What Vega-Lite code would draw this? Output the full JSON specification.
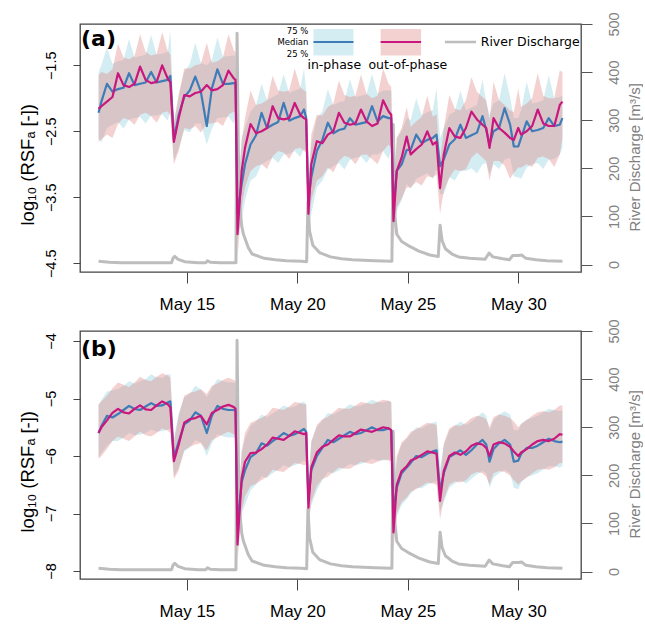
{
 "$schema": "https://vega.github.io/schema/vega-lite/v6.json",
 "padding": {"left": 17, "top": 11, "right": 0, "bottom": 0},
 "background": "white",
 "config": {
  "view": {"stroke": "#444", "strokeWidth": 1.3},
  "font": "Liberation Sans",
  "axis": {"grid": false, "labelFont": "Liberation Sans", "titleFont": "Liberation Sans", "labelColor": "#000", "titleColor": "#000", "titleFontWeight": "normal", "tickColor": "#444", "domainColor": "#444", "labelFontSize": 14.5, "titleFontSize": 16.5, "labelFlush": false, "labelOverlap": false}
 },
 "datasets": {
  "a": [
   {"d":11,"il":-2.6,"im":-2.22,"ih":-1.6,"ol":-2.66,"om":-2.16,"oh":-1.65},
   {"d":11.13,"il":-2.67,"im":-2.05,"ih":-1.5,"ol":-2.62,"om":-2.12,"oh":-1.6},
   {"d":11.38,"il":-2.45,"im":-1.78,"ih":-1.23,"ol":-2.55,"om":-2.05,"oh":-1.63},
   {"d":11.63,"il":-2.4,"im":-1.9,"ih":-1.48,"ol":-2.6,"om":-1.98,"oh":-1.56},
   {"d":11.88,"il":-2.36,"im":-1.86,"ih":-1.44,"ol":-2.39,"om":-1.62,"oh":-1.17},
   {"d":12.13,"il":-2.46,"im":-1.84,"ih":-1.42,"ol":-2.3,"om":-1.8,"oh":-1.38},
   {"d":12.38,"il":-2.32,"im":-1.62,"ih":-1.1,"ol":-2.33,"om":-1.83,"oh":-1.41},
   {"d":12.63,"il":-2.3,"im":-1.8,"ih":-1.38,"ol":-2.4,"om":-1.78,"oh":-1.36},
   {"d":12.88,"il":-2.28,"im":-1.78,"ih":-1.36,"ol":-2.25,"om":-1.52,"oh":-1.03},
   {"d":13.13,"il":-2.38,"im":-1.76,"ih":-1.34,"ol":-2.22,"om":-1.72,"oh":-1.3},
   {"d":13.38,"il":-2.26,"im":-1.6,"ih":-1.04,"ol":-2.27,"om":-1.77,"oh":-1.35},
   {"d":13.63,"il":-2.26,"im":-1.76,"ih":-1.34,"ol":-2.37,"om":-1.75,"oh":-1.33},
   {"d":13.88,"il":-2.24,"im":-1.74,"ih":-1.32,"ol":-2.22,"om":-1.5,"oh":-1.0},
   {"d":14.13,"il":-2.34,"im":-1.72,"ih":-1.3,"ol":-2.2,"om":-1.7,"oh":-1.28},
   {"d":14.25,"il":-2.2,"im":-1.66,"ih":-0.98,"ol":-2.26,"om":-1.76,"oh":-1.34},
   {"d":14.41,"il":-2.95,"im":-2.62,"ih":-2.35,"ol":-3.0,"om":-2.66,"oh":-2.38},
   {"d":14.63,"il":-2.75,"im":-2.25,"ih":-1.95,"ol":-2.8,"om":-2.3,"oh":-1.95},
   {"d":14.88,"il":-2.48,"im":-1.98,"ih":-1.6,"ol":-2.45,"om":-1.95,"oh":-1.55},
   {"d":15.13,"il":-2.52,"im":-1.88,"ih":-1.48,"ol":-2.47,"om":-1.97,"oh":-1.55},
   {"d":15.38,"il":-2.38,"im":-1.67,"ih":-1.16,"ol":-2.42,"om":-1.92,"oh":-1.5},
   {"d":15.63,"il":-2.38,"im":-1.9,"ih":-1.46,"ol":-2.52,"om":-1.9,"oh":-1.48},
   {"d":15.9,"il":-2.7,"im":-2.42,"ih":-1.5,"ol":-2.38,"om":-1.8,"oh":-1.16},
   {"d":16.13,"il":-2.46,"im":-1.85,"ih":-1.42,"ol":-2.38,"om":-1.88,"oh":-1.46},
   {"d":16.38,"il":-2.3,"im":-1.56,"ih":-1.08,"ol":-2.36,"om":-1.86,"oh":-1.44},
   {"d":16.63,"il":-2.29,"im":-1.78,"ih":-1.37,"ol":-2.42,"om":-1.8,"oh":-1.38},
   {"d":16.88,"il":-2.28,"im":-1.78,"ih":-1.36,"ol":-2.25,"om":-1.58,"oh":-1.03},
   {"d":17.13,"il":-2.39,"im":-1.77,"ih":-1.35,"ol":-2.2,"om":-1.7,"oh":-1.28},
   {"d":17.2,"il":-2.27,"im":-1.77,"ih":-1.35,"ol":-2.22,"om":-1.72,"oh":-1.3},
   {"d":17.29,"il":-4.1,"im":-3.75,"ih":-3.4,"ol":-4.4,"om":-4.06,"oh":-3.75},
   {"d":17.48,"il":-3.85,"im":-3.3,"ih":-2.6,"ol":-3.65,"om":-3.1,"oh":-2.65},
   {"d":17.63,"il":-3.55,"im":-3.0,"ih":-2.45,"ol":-3.35,"om":-2.75,"oh":-2.3},
   {"d":17.88,"il":-3.25,"im":-2.7,"ih":-2.2,"ol":-3.1,"om":-2.39,"oh":-1.88},
   {"d":18.13,"il":-3.18,"im":-2.56,"ih":-2.1,"ol":-3.03,"om":-2.53,"oh":-2.1},
   {"d":18.38,"il":-3.0,"im":-2.22,"ih":-1.78,"ol":-3.0,"om":-2.5,"oh":-2.08},
   {"d":18.63,"il":-2.95,"im":-2.45,"ih":-2.03,"ol":-3.07,"om":-2.45,"oh":-2.03},
   {"d":18.88,"il":-2.9,"im":-2.4,"ih":-1.98,"ol":-2.88,"om":-2.12,"oh":-1.66},
   {"d":19.13,"il":-2.98,"im":-2.36,"ih":-1.94,"ol":-2.8,"om":-2.3,"oh":-1.88},
   {"d":19.38,"il":-2.85,"im":-2.07,"ih":-1.63,"ol":-2.82,"om":-2.32,"oh":-1.9},
   {"d":19.63,"il":-2.84,"im":-2.34,"ih":-1.92,"ol":-2.92,"om":-2.3,"oh":-1.88},
   {"d":19.88,"il":-2.8,"im":-2.3,"ih":-1.88,"ol":-2.77,"om":-2.07,"oh":-1.55},
   {"d":20.13,"il":-2.89,"im":-2.27,"ih":-1.85,"ol":-2.75,"om":-2.25,"oh":-1.83},
   {"d":20.3,"il":-2.77,"im":-2.17,"ih":-1.55,"ol":-2.8,"om":-2.3,"oh":-1.88},
   {"d":20.4,"il":-2.8,"im":-2.3,"ih":-1.88,"ol":-2.82,"om":-2.32,"oh":-1.9},
   {"d":20.5,"il":-3.9,"im":-3.55,"ih":-3.2,"ol":-4.1,"om":-3.75,"oh":-3.4},
   {"d":20.63,"il":-3.75,"im":-3.2,"ih":-2.7,"ol":-3.55,"om":-3.0,"oh":-2.55},
   {"d":20.88,"il":-3.35,"im":-2.8,"ih":-2.3,"ol":-3.25,"om":-2.65,"oh":-2.25},
   {"d":21.13,"il":-3.25,"im":-2.63,"ih":-2.2,"ol":-3.18,"om":-2.68,"oh":-2.26},
   {"d":21.38,"il":-3.08,"im":-2.37,"ih":-1.86,"ol":-3.05,"om":-2.55,"oh":-2.13},
   {"d":21.63,"il":-3.03,"im":-2.53,"ih":-2.1,"ol":-3.12,"om":-2.5,"oh":-2.08},
   {"d":21.88,"il":-2.98,"im":-2.48,"ih":-2.06,"ol":-2.95,"om":-2.22,"oh":-1.73},
   {"d":22.13,"il":-3.08,"im":-2.46,"ih":-2.04,"ol":-2.87,"om":-2.37,"oh":-1.95},
   {"d":22.38,"il":-2.93,"im":-2.3,"ih":-1.71,"ol":-2.9,"om":-2.4,"oh":-1.98},
   {"d":22.63,"il":-2.9,"im":-2.4,"ih":-1.98,"ol":-3.0,"om":-2.38,"oh":-1.96},
   {"d":22.88,"il":-2.88,"im":-2.38,"ih":-1.96,"ol":-2.86,"om":-2.17,"oh":-1.64},
   {"d":23.13,"il":-2.98,"im":-2.36,"ih":-1.94,"ol":-2.85,"om":-2.35,"oh":-1.93},
   {"d":23.38,"il":-2.85,"im":-2.12,"ih":-1.63,"ol":-2.92,"om":-2.42,"oh":-2.0},
   {"d":23.63,"il":-2.85,"im":-2.35,"ih":-1.93,"ol":-3.0,"om":-2.38,"oh":-1.96},
   {"d":23.88,"il":-2.8,"im":-2.27,"ih":-1.88,"ol":-2.8,"om":-2.03,"oh":-1.55},
   {"d":24.13,"il":-2.92,"im":-2.3,"ih":-1.88,"ol":-2.7,"om":-2.2,"oh":-1.78},
   {"d":24.25,"il":-2.8,"im":-2.3,"ih":-1.88,"ol":-2.75,"om":-2.25,"oh":-1.83},
   {"d":24.35,"il":-4.0,"im":-3.66,"ih":-3.3,"ol":-4.2,"om":-3.86,"oh":-3.5},
   {"d":24.5,"il":-3.7,"im":-3.1,"ih":-2.6,"ol":-3.65,"om":-3.1,"oh":-2.6},
   {"d":24.72,"il":-3.55,"im":-3.0,"ih":-2.5,"ol":-3.52,"om":-2.9,"oh":-2.45},
   {"d":24.95,"il":-3.3,"im":-2.78,"ih":-2.3,"ol":-3.35,"om":-2.58,"oh":-2.13},
   {"d":25.13,"il":-3.37,"im":-2.78,"ih":-2.33,"ol":-3.35,"om":-2.85,"oh":-2.43},
   {"d":25.38,"il":-3.22,"im":-2.55,"ih":-2.0,"ol":-3.27,"om":-2.77,"oh":-2.35},
   {"d":25.63,"il":-3.18,"im":-2.68,"ih":-2.26,"ol":-3.32,"om":-2.7,"oh":-2.28},
   {"d":25.88,"il":-3.13,"im":-2.63,"ih":-2.21,"ol":-3.18,"om":-2.5,"oh":-1.96},
   {"d":26.13,"il":-3.22,"im":-2.6,"ih":-2.18,"ol":-3.2,"om":-2.7,"oh":-2.28},
   {"d":26.3,"il":-3.07,"im":-2.55,"ih":-1.85,"ol":-3.16,"om":-2.66,"oh":-2.24},
   {"d":26.46,"il":-3.45,"im":-3.03,"ih":-2.6,"ol":-3.75,"om":-3.36,"oh":-2.95},
   {"d":26.63,"il":-3.45,"im":-2.92,"ih":-2.45,"ol":-3.4,"om":-2.85,"oh":-2.45},
   {"d":26.88,"il":-3.2,"im":-2.7,"ih":-2.25,"ol":-3.2,"om":-2.45,"oh":-1.95},
   {"d":27.13,"il":-3.24,"im":-2.62,"ih":-2.2,"ol":-3.08,"om":-2.58,"oh":-2.16},
   {"d":27.38,"il":-3.1,"im":-2.4,"ih":-1.88,"ol":-3.1,"om":-2.6,"oh":-2.18},
   {"d":27.63,"il":-3.1,"im":-2.6,"ih":-2.18,"ol":-3.07,"om":-2.45,"oh":-2.03},
   {"d":27.88,"il":-3.06,"im":-2.56,"ih":-2.14,"ol":-2.9,"om":-2.2,"oh":-1.68},
   {"d":28.13,"il":-3.14,"im":-2.52,"ih":-2.1,"ol":-2.82,"om":-2.32,"oh":-1.9},
   {"d":28.38,"il":-3.0,"im":-2.27,"ih":-1.72,"ol":-2.9,"om":-2.4,"oh":-1.98},
   {"d":28.55,"il":-2.98,"im":-2.48,"ih":-2.06,"ol":-2.95,"om":-2.45,"oh":-2.03},
   {"d":28.7,"il":-3.15,"im":-2.7,"ih":-2.25,"ol":-3.25,"om":-2.75,"oh":-2.33},
   {"d":28.88,"il":-3.0,"im":-2.5,"ih":-2.08,"ol":-2.95,"om":-2.3,"oh":-1.75},
   {"d":29.13,"il":-3.07,"im":-2.45,"ih":-2.03,"ol":-2.95,"om":-2.45,"oh":-2.03},
   {"d":29.38,"il":-2.93,"im":-2.15,"ih":-1.62,"ol":-3.02,"om":-2.52,"oh":-2.1},
   {"d":29.63,"il":-2.9,"im":-2.4,"ih":-1.98,"ol":-3.22,"om":-2.6,"oh":-2.18},
   {"d":29.8,"il":-3.18,"im":-2.73,"ih":-2.3,"ol":-3.13,"om":-2.63,"oh":-2.21},
   {"d":30.0,"il":-3.2,"im":-2.73,"ih":-2.3,"ol":-3.05,"om":-2.45,"oh":-1.85},
   {"d":30.13,"il":-3.22,"im":-2.6,"ih":-2.18,"ol":-3.05,"om":-2.55,"oh":-2.13},
   {"d":30.38,"il":-3.05,"im":-2.35,"ih":-1.75,"ol":-3.0,"om":-2.5,"oh":-2.08},
   {"d":30.63,"il":-3.0,"im":-2.5,"ih":-2.08,"ol":-3.04,"om":-2.42,"oh":-2.0},
   {"d":30.88,"il":-2.98,"im":-2.48,"ih":-2.06,"ol":-2.9,"om":-2.17,"oh":-1.62},
   {"d":31.13,"il":-3.07,"im":-2.45,"ih":-2.03,"ol":-2.88,"om":-2.38,"oh":-1.96},
   {"d":31.38,"il":-2.93,"im":-2.3,"ih":-1.65,"ol":-2.92,"om":-2.42,"oh":-2.0},
   {"d":31.63,"il":-2.92,"im":-2.42,"ih":-2.0,"ol":-3.04,"om":-2.42,"oh":-2.0},
   {"d":31.88,"il":-2.85,"im":-2.4,"ih":-1.98,"ol":-2.85,"om":-2.1,"oh":-1.58},
   {"d":32.0,"il":-2.75,"im":-2.3,"ih":-1.96,"ol":-2.6,"om":-2.05,"oh":-1.6}
  ],
  "b": [
   {"d":11,"il":-6.02,"im":-5.6,"ih":-5.12,"ol":-6.05,"om":-5.6,"oh":-5.1},
   {"d":11.13,"il":-5.95,"im":-5.48,"ih":-5.02,"ol":-6.0,"om":-5.5,"oh":-5.05},
   {"d":11.38,"il":-5.82,"im":-5.3,"ih":-4.88,"ol":-5.88,"om":-5.38,"oh":-4.95},
   {"d":11.63,"il":-5.74,"im":-5.33,"ih":-4.86,"ol":-5.74,"om":-5.25,"oh":-4.82},
   {"d":11.88,"il":-5.74,"im":-5.27,"ih":-4.83,"ol":-5.66,"om":-5.18,"oh":-4.72},
   {"d":12.13,"il":-5.68,"im":-5.2,"ih":-4.78,"ol":-5.7,"om":-5.24,"oh":-4.76},
   {"d":12.38,"il":-5.6,"im":-5.13,"ih":-4.7,"ol":-5.74,"om":-5.26,"oh":-4.8},
   {"d":12.63,"il":-5.64,"im":-5.18,"ih":-4.74,"ol":-5.66,"om":-5.18,"oh":-4.72},
   {"d":12.88,"il":-5.63,"im":-5.2,"ih":-4.7,"ol":-5.58,"om":-5.12,"oh":-4.62},
   {"d":13.13,"il":-5.6,"im":-5.14,"ih":-4.66,"ol":-5.64,"om":-5.19,"oh":-4.68},
   {"d":13.38,"il":-5.54,"im":-5.08,"ih":-4.58,"ol":-5.66,"om":-5.2,"oh":-4.7},
   {"d":13.63,"il":-5.58,"im":-5.13,"ih":-4.63,"ol":-5.6,"om":-5.12,"oh":-4.62},
   {"d":13.88,"il":-5.57,"im":-5.12,"ih":-4.64,"ol":-5.52,"om":-5.05,"oh":-4.56},
   {"d":14.13,"il":-5.54,"im":-5.07,"ih":-4.58,"ol":-5.56,"om":-5.1,"oh":-4.6},
   {"d":14.25,"il":-5.52,"im":-5.05,"ih":-4.58,"ol":-5.6,"om":-5.15,"oh":-4.64},
   {"d":14.41,"il":-6.35,"im":-6.03,"ih":-5.7,"ol":-6.4,"om":-6.09,"oh":-5.75},
   {"d":14.63,"il":-6.2,"im":-5.75,"ih":-5.25,"ol":-6.25,"om":-5.8,"oh":-5.3},
   {"d":14.88,"il":-5.92,"im":-5.45,"ih":-4.98,"ol":-5.9,"om":-5.42,"oh":-4.95},
   {"d":15.13,"il":-5.85,"im":-5.38,"ih":-4.92,"ol":-5.84,"om":-5.36,"oh":-4.9},
   {"d":15.38,"il":-5.72,"im":-5.24,"ih":-4.78,"ol":-5.8,"om":-5.34,"oh":-4.88},
   {"d":15.63,"il":-5.76,"im":-5.3,"ih":-4.84,"ol":-5.78,"om":-5.3,"oh":-4.84},
   {"d":15.9,"il":-6.0,"im":-5.6,"ih":-4.98,"ol":-5.9,"om":-5.45,"oh":-4.92},
   {"d":16.13,"il":-5.78,"im":-5.3,"ih":-4.82,"ol":-5.72,"om":-5.25,"oh":-4.78},
   {"d":16.38,"il":-5.62,"im":-5.13,"ih":-4.66,"ol":-5.68,"om":-5.2,"oh":-4.74},
   {"d":16.63,"il":-5.66,"im":-5.18,"ih":-4.7,"ol":-5.62,"om":-5.14,"oh":-4.68},
   {"d":16.88,"il":-5.68,"im":-5.2,"ih":-4.72,"ol":-5.58,"om":-5.11,"oh":-4.64},
   {"d":17.13,"il":-5.68,"im":-5.2,"ih":-4.72,"ol":-5.62,"om":-5.15,"oh":-4.68},
   {"d":17.2,"il":-5.7,"im":-5.22,"ih":-4.74,"ol":-5.65,"om":-5.18,"oh":-4.7},
   {"d":17.29,"il":-7.55,"im":-7.2,"ih":-6.85,"ol":-7.85,"om":-7.54,"oh":-7.2},
   {"d":17.48,"il":-7.0,"im":-6.45,"ih":-5.95,"ol":-6.95,"om":-6.38,"oh":-5.9},
   {"d":17.63,"il":-6.85,"im":-6.25,"ih":-5.7,"ol":-6.7,"om":-6.1,"oh":-5.6},
   {"d":17.88,"il":-6.6,"im":-6.02,"ih":-5.48,"ol":-6.52,"om":-5.95,"oh":-5.42},
   {"d":18.13,"il":-6.5,"im":-5.95,"ih":-5.4,"ol":-6.48,"om":-5.94,"oh":-5.38},
   {"d":18.38,"il":-6.35,"im":-5.78,"ih":-5.28,"ol":-6.42,"om":-5.88,"oh":-5.34},
   {"d":18.63,"il":-6.38,"im":-5.82,"ih":-5.32,"ol":-6.36,"om":-5.8,"oh":-5.28},
   {"d":18.88,"il":-6.3,"im":-5.74,"ih":-5.26,"ol":-6.24,"om":-5.68,"oh":-5.16},
   {"d":19.13,"il":-6.24,"im":-5.68,"ih":-5.2,"ol":-6.26,"om":-5.7,"oh":-5.18},
   {"d":19.38,"il":-6.16,"im":-5.6,"ih":-5.12,"ol":-6.28,"om":-5.72,"oh":-5.2},
   {"d":19.63,"il":-6.2,"im":-5.65,"ih":-5.16,"ol":-6.2,"om":-5.65,"oh":-5.14},
   {"d":19.88,"il":-6.16,"im":-5.62,"ih":-5.14,"ol":-6.12,"om":-5.57,"oh":-5.06},
   {"d":20.13,"il":-6.12,"im":-5.57,"ih":-5.08,"ol":-6.14,"om":-5.6,"oh":-5.08},
   {"d":20.3,"il":-6.08,"im":-5.53,"ih":-5.05,"ol":-6.16,"om":-5.62,"oh":-5.1},
   {"d":20.4,"il":-6.12,"im":-5.58,"ih":-5.1,"ol":-6.15,"om":-5.6,"oh":-5.1},
   {"d":20.5,"il":-7.1,"im":-6.75,"ih":-6.4,"ol":-7.25,"om":-6.9,"oh":-6.55},
   {"d":20.63,"il":-6.85,"im":-6.25,"ih":-5.75,"ol":-6.8,"om":-6.2,"oh":-5.75},
   {"d":20.88,"il":-6.6,"im":-6.0,"ih":-5.5,"ol":-6.52,"om":-5.94,"oh":-5.46},
   {"d":21.13,"il":-6.42,"im":-5.86,"ih":-5.38,"ol":-6.4,"om":-5.84,"oh":-5.36},
   {"d":21.38,"il":-6.28,"im":-5.72,"ih":-5.25,"ol":-6.36,"om":-5.8,"oh":-5.32},
   {"d":21.63,"il":-6.3,"im":-5.76,"ih":-5.28,"ol":-6.28,"om":-5.72,"oh":-5.24},
   {"d":21.88,"il":-6.25,"im":-5.7,"ih":-5.22,"ol":-6.2,"om":-5.64,"oh":-5.16},
   {"d":22.13,"il":-6.2,"im":-5.64,"ih":-5.17,"ol":-6.22,"om":-5.66,"oh":-5.18},
   {"d":22.38,"il":-6.14,"im":-5.58,"ih":-5.1,"ol":-6.22,"om":-5.66,"oh":-5.18},
   {"d":22.63,"il":-6.16,"im":-5.62,"ih":-5.14,"ol":-6.16,"om":-5.6,"oh":-5.12},
   {"d":22.88,"il":-6.14,"im":-5.6,"ih":-5.12,"ol":-6.1,"om":-5.54,"oh":-5.06},
   {"d":23.13,"il":-6.1,"im":-5.55,"ih":-5.08,"ol":-6.12,"om":-5.56,"oh":-5.08},
   {"d":23.38,"il":-6.05,"im":-5.5,"ih":-5.02,"ol":-6.14,"om":-5.58,"oh":-5.1},
   {"d":23.63,"il":-6.08,"im":-5.55,"ih":-5.06,"ol":-6.1,"om":-5.54,"oh":-5.06},
   {"d":23.88,"il":-6.08,"im":-5.55,"ih":-5.07,"ol":-6.06,"om":-5.5,"oh":-5.02},
   {"d":24.13,"il":-6.06,"im":-5.52,"ih":-5.04,"ol":-6.08,"om":-5.52,"oh":-5.04},
   {"d":24.25,"il":-6.08,"im":-5.55,"ih":-5.06,"ol":-6.1,"om":-5.55,"oh":-5.06},
   {"d":24.35,"il":-7.3,"im":-6.96,"ih":-6.6,"ol":-7.65,"om":-7.33,"oh":-7.0},
   {"d":24.5,"il":-7.05,"im":-6.55,"ih":-6.05,"ol":-7.0,"om":-6.5,"oh":-6.0},
   {"d":24.72,"il":-6.85,"im":-6.3,"ih":-5.8,"ol":-6.8,"om":-6.26,"oh":-5.76},
   {"d":24.95,"il":-6.75,"im":-6.2,"ih":-5.7,"ol":-6.72,"om":-6.18,"oh":-5.68},
   {"d":25.13,"il":-6.66,"im":-6.12,"ih":-5.62,"ol":-6.62,"om":-6.08,"oh":-5.58},
   {"d":25.38,"il":-6.55,"im":-6.0,"ih":-5.5,"ol":-6.58,"om":-6.04,"oh":-5.54},
   {"d":25.63,"il":-6.56,"im":-6.02,"ih":-5.52,"ol":-6.52,"om":-5.98,"oh":-5.48},
   {"d":25.88,"il":-6.5,"im":-5.96,"ih":-5.46,"ol":-6.46,"om":-5.92,"oh":-5.42},
   {"d":26.13,"il":-6.46,"im":-5.92,"ih":-5.42,"ol":-6.48,"om":-5.94,"oh":-5.44},
   {"d":26.3,"il":-6.44,"im":-5.9,"ih":-5.4,"ol":-6.5,"om":-5.96,"oh":-5.46},
   {"d":26.46,"il":-6.95,"im":-6.6,"ih":-6.2,"ol":-7.1,"om":-6.78,"oh":-6.4},
   {"d":26.63,"il":-6.8,"im":-6.3,"ih":-5.82,"ol":-6.75,"om":-6.26,"oh":-5.78},
   {"d":26.88,"il":-6.55,"im":-6.02,"ih":-5.55,"ol":-6.5,"om":-6.0,"oh":-5.52},
   {"d":27.13,"il":-6.48,"im":-5.96,"ih":-5.48,"ol":-6.44,"om":-5.94,"oh":-5.46},
   {"d":27.38,"il":-6.42,"im":-5.9,"ih":-5.4,"ol":-6.46,"om":-5.98,"oh":-5.48},
   {"d":27.63,"il":-6.48,"im":-5.98,"ih":-5.46,"ol":-6.42,"om":-5.92,"oh":-5.42},
   {"d":27.88,"il":-6.4,"im":-5.9,"ih":-5.4,"ol":-6.32,"om":-5.82,"oh":-5.34},
   {"d":28.13,"il":-6.32,"im":-5.8,"ih":-5.32,"ol":-6.28,"om":-5.78,"oh":-5.3},
   {"d":28.38,"il":-6.26,"im":-5.72,"ih":-5.24,"ol":-6.3,"om":-5.8,"oh":-5.32},
   {"d":28.55,"il":-6.3,"im":-5.8,"ih":-5.3,"ol":-6.36,"om":-5.86,"oh":-5.36},
   {"d":28.7,"il":-6.55,"im":-6.1,"ih":-5.55,"ol":-6.5,"om":-6.0,"oh":-5.5},
   {"d":28.88,"il":-6.38,"im":-5.88,"ih":-5.38,"ol":-6.3,"om":-5.8,"oh":-5.32},
   {"d":29.13,"il":-6.3,"im":-5.78,"ih":-5.28,"ol":-6.26,"om":-5.76,"oh":-5.28},
   {"d":29.38,"il":-6.24,"im":-5.72,"ih":-5.22,"ol":-6.28,"om":-5.78,"oh":-5.3},
   {"d":29.63,"il":-6.3,"im":-5.8,"ih":-5.28,"ol":-6.34,"om":-5.84,"oh":-5.34},
   {"d":29.8,"il":-6.55,"im":-6.1,"ih":-5.55,"ol":-6.42,"om":-5.92,"oh":-5.4},
   {"d":30.0,"il":-6.58,"im":-6.08,"ih":-5.55,"ol":-6.5,"om":-6.0,"oh":-5.5},
   {"d":30.13,"il":-6.46,"im":-5.96,"ih":-5.45,"ol":-6.44,"om":-5.94,"oh":-5.44},
   {"d":30.38,"il":-6.36,"im":-5.86,"ih":-5.36,"ol":-6.38,"om":-5.88,"oh":-5.38},
   {"d":30.63,"il":-6.34,"im":-5.86,"ih":-5.34,"ol":-6.3,"om":-5.8,"oh":-5.3},
   {"d":30.88,"il":-6.3,"im":-5.82,"ih":-5.3,"ol":-6.24,"om":-5.74,"oh":-5.24},
   {"d":31.13,"il":-6.24,"im":-5.76,"ih":-5.24,"ol":-6.22,"om":-5.72,"oh":-5.22},
   {"d":31.38,"il":-6.18,"im":-5.7,"ih":-5.18,"ol":-6.24,"om":-5.74,"oh":-5.24},
   {"d":31.63,"il":-6.18,"im":-5.74,"ih":-5.2,"ol":-6.2,"om":-5.7,"oh":-5.2},
   {"d":31.88,"il":-6.2,"im":-5.76,"ih":-5.22,"ol":-6.12,"om":-5.62,"oh":-5.12},
   {"d":32.0,"il":-6.18,"im":-5.75,"ih":-5.2,"ol":-6.12,"om":-5.63,"oh":-5.12}
  ],
  "q": [
   {"d":11,"q":7},{"d":11.5,"q":5},{"d":12,"q":4},{"d":12.5,"q":4},{"d":13,"q":4},{"d":13.5,"q":4},{"d":14,"q":4},{"d":14.3,"q":4},{"d":14.38,"q":14},{"d":14.45,"q":17},{"d":14.6,"q":11},{"d":14.9,"q":6},{"d":15.5,"q":4},{"d":15.85,"q":4},{"d":15.93,"q":8},{"d":16.05,"q":5},{"d":16.5,"q":4},{"d":17,"q":4},{"d":17.22,"q":4},{"d":17.27,"q":481},{"d":17.33,"q":230},{"d":17.4,"q":120},{"d":17.48,"q":80},{"d":17.56,"q":63},{"d":17.78,"q":35},{"d":17.95,"q":22},{"d":18.5,"q":13},{"d":19,"q":10},{"d":19.5,"q":8},{"d":20.2,"q":7},{"d":20.42,"q":6},{"d":20.48,"q":130},{"d":20.55,"q":70},{"d":20.7,"q":40},{"d":21,"q":25},{"d":21.5,"q":16},{"d":22,"q":12},{"d":22.5,"q":10},{"d":23,"q":9},{"d":23.5,"q":8},{"d":24.28,"q":7},{"d":24.34,"q":291},{"d":24.42,"q":100},{"d":24.5,"q":63},{"d":24.72,"q":48},{"d":25,"q":40},{"d":25.5,"q":28},{"d":26,"q":20},{"d":26.38,"q":17},{"d":26.46,"q":82},{"d":26.55,"q":50},{"d":26.7,"q":33},{"d":27,"q":22},{"d":27.3,"q":16},{"d":27.8,"q":13},{"d":28.5,"q":11},{"d":28.68,"q":24},{"d":28.85,"q":16},{"d":29.3,"q":12},{"d":29.6,"q":10},{"d":29.75,"q":19},{"d":30,"q":19},{"d":30.15,"q":20},{"d":30.35,"q":13},{"d":30.8,"q":10},{"d":31.3,"q":8},{"d":32,"q":7}
  ]
 },
 "bounds": "flush",
 "spacing": 59,
 "vconcat": [
  {
   "width": 501, "height": 248,
   "layer": [
    {
     "data": {"name": "a"},
     "layer": [
      {"mark": {"type": "area", "color": "#9fd6e2", "opacity": 0.45},
       "encoding": {
        "x": {"field": "d", "type": "quantitative", "scale": {"domain": [10.16, 32.84], "nice": false, "zero": false},
              "axis": {"values": [15, 20, 25, 30], "labelExpr": "'May ' + datum.value", "tickSize": 11, "labelPadding": 13, "labelFontSize": 17, "domain": false, "title": null, "labelAngle": 0}},
        "y": {"field": "il", "type": "quantitative", "scale": {"domain": [-4.632, -0.874], "nice": false, "zero": false},
              "axis": {"orient": "left", "values": [-4.5, -4, -3.5, -3, -2.5, -2, -1.5, -1], "labelExpr": "datum.value % 1 == 0 ? '' : format(datum.value, '.1f')", "tickSize": 7, "labelAngle": 270, "labelAlign": "center", "labelBaseline": "bottom", "labelPadding": 15, "domain": false, "title": "log₁₀ (RSFₐ [-])", "titleFontSize": 18.5, "titleAngle": 270, "titleX": -53, "titleY": 201, "titleAlign": "left", "titleBaseline": "middle"}},
        "y2": {"field": "ih"}
       }},
      {"mark": {"type": "area", "color": "#e07a7a", "opacity": 0.35},
       "encoding": {
        "x": {"field": "d", "type": "quantitative", "scale": {"domain": [10.16, 32.84], "nice": false, "zero": false}},
        "y": {"field": "ol", "type": "quantitative", "scale": {"domain": [-4.632, -0.874], "nice": false, "zero": false}},
        "y2": {"field": "oh"}
       }}
     ]
    },
    {
     "data": {"name": "q"},
     "mark": {"type": "line", "color": "#bdbdbd", "strokeWidth": 3, "strokeJoin": "round"},
     "encoding": {
      "x": {"field": "d", "type": "quantitative", "scale": {"domain": [10.16, 32.84], "nice": false, "zero": false}},
      "y": {"field": "q", "type": "quantitative", "scale": {"domain": [-15.4, 500], "nice": false, "zero": false},
            "axis": {"orient": "right", "values": [0, 100, 200, 300, 400, 500], "tickSize": 11, "labelAngle": 270, "labelAlign": "center", "labelBaseline": "top", "labelPadding": 15, "labelColor": "#808080", "domain": false, "tickColor": "#555", "title": "River Discharge [m³/s]", "titleFontSize": 15, "titleColor": "#808080", "titleAngle": 270, "titleX": 53, "titleY": 207, "titleAlign": "left", "titleBaseline": "middle"}}
     }
    },
    {
     "layer": [
      {"data": {"name": "a"}, "mark": {"type": "line", "color": "#3e7cb8", "strokeWidth": 2.2, "strokeJoin": "round"},
       "encoding": {
        "x": {"field": "d", "type": "quantitative", "scale": {"domain": [10.16, 32.84], "nice": false, "zero": false}},
        "y": {"field": "im", "type": "quantitative", "scale": {"domain": [-4.632, -0.874], "nice": false, "zero": false}, "axis": null}
       }},
      {"data": {"name": "a"}, "mark": {"type": "line", "color": "#c9177e", "strokeWidth": 2.2, "strokeJoin": "round"},
       "encoding": {
        "x": {"field": "d", "type": "quantitative", "scale": {"domain": [10.16, 32.84], "nice": false, "zero": false}},
        "y": {"field": "om", "type": "quantitative", "scale": {"domain": [-4.632, -0.874], "nice": false, "zero": false}, "axis": null}
       }},
      {"data": {"values": [{"d": 20.73, "d2": 22.54, "v": -0.95, "v2": -1.353}]},
       "mark": {"type": "rect", "color": "#9fd6e2", "opacity": 0.45},
       "encoding": {
        "x": {"field": "d", "type": "quantitative", "scale": {"domain": [10.16, 32.84], "nice": false, "zero": false}},
        "x2": {"field": "d2"},
        "y": {"field": "v", "type": "quantitative", "scale": {"domain": [-4.632, -0.874], "nice": false, "zero": false}, "axis": null},
        "y2": {"field": "v2"}
       }},
      {"data": {"values": [{"d": 23.77, "d2": 25.6, "v": -0.95, "v2": -1.353}]},
       "mark": {"type": "rect", "color": "#e07a7a", "opacity": 0.35},
       "encoding": {
        "x": {"field": "d", "type": "quantitative", "scale": {"domain": [10.16, 32.84], "nice": false, "zero": false}},
        "x2": {"field": "d2"},
        "y": {"field": "v", "type": "quantitative", "scale": {"domain": [-4.632, -0.874], "nice": false, "zero": false}, "axis": null},
        "y2": {"field": "v2"}
       }},
      {"data": {"values": [{"d": 20.73, "d2": 22.54, "v": -1.147}]},
       "mark": {"type": "rule", "color": "#3e7cb8", "strokeWidth": 2.2},
       "encoding": {
        "x": {"field": "d", "type": "quantitative", "scale": {"domain": [10.16, 32.84], "nice": false, "zero": false}},
        "x2": {"field": "d2"},
        "y": {"field": "v", "type": "quantitative", "scale": {"domain": [-4.632, -0.874], "nice": false, "zero": false}, "axis": null}
       }},
      {"data": {"values": [{"d": 23.77, "d2": 25.6, "v": -1.147}]},
       "mark": {"type": "rule", "color": "#c9177e", "strokeWidth": 2.2},
       "encoding": {
        "x": {"field": "d", "type": "quantitative", "scale": {"domain": [10.16, 32.84], "nice": false, "zero": false}},
        "x2": {"field": "d2"},
        "y": {"field": "v", "type": "quantitative", "scale": {"domain": [-4.632, -0.874], "nice": false, "zero": false}, "axis": null}
       }},
      {"data": {"values": [{"d": 26.68, "d2": 28.09, "v": -1.147}]},
       "mark": {"type": "rule", "color": "#bdbdbd", "strokeWidth": 2.5},
       "encoding": {
        "x": {"field": "d", "type": "quantitative", "scale": {"domain": [10.16, 32.84], "nice": false, "zero": false}},
        "x2": {"field": "d2"},
        "y": {"field": "v", "type": "quantitative", "scale": {"domain": [-4.632, -0.874], "nice": false, "zero": false}, "axis": null}
       }},
      {"data": {"values": [{"d": 20.5, "v": -0.985, "t": "75 %"}, {"d": 20.5, "v": -1.147, "t": "Median"}, {"d": 20.5, "v": -1.323, "t": "25 %"}]},
       "mark": {"type": "text", "align": "right", "baseline": "middle", "font": "DejaVu Sans", "fontSize": 8.5, "color": "#000"},
       "encoding": {
        "x": {"field": "d", "type": "quantitative", "scale": {"domain": [10.16, 32.84], "nice": false, "zero": false}},
        "y": {"field": "v", "type": "quantitative", "scale": {"domain": [-4.632, -0.874], "nice": false, "zero": false}, "axis": null},
        "text": {"field": "t"}
       }},
      {"data": {"values": [{"d": 21.67, "v": -1.49, "t": "in-phase"}, {"d": 25.0, "v": -1.49, "t": "out-of-phase"}]},
       "mark": {"type": "text", "align": "center", "baseline": "middle", "font": "DejaVu Sans", "fontSize": 12.5, "color": "#000"},
       "encoding": {
        "x": {"field": "d", "type": "quantitative", "scale": {"domain": [10.16, 32.84], "nice": false, "zero": false}},
        "y": {"field": "v", "type": "quantitative", "scale": {"domain": [-4.632, -0.874], "nice": false, "zero": false}, "axis": null},
        "text": {"field": "t"}
       }},
      {"data": {"values": [{"d": 28.3, "v": -1.147, "t": "River Discharge"}]},
       "mark": {"type": "text", "align": "left", "baseline": "middle", "font": "DejaVu Sans", "fontSize": 12.5, "color": "#000"},
       "encoding": {
        "x": {"field": "d", "type": "quantitative", "scale": {"domain": [10.16, 32.84], "nice": false, "zero": false}},
        "y": {"field": "v", "type": "quantitative", "scale": {"domain": [-4.632, -0.874], "nice": false, "zero": false}, "axis": null},
        "text": {"field": "t"}
       }},
      {"data": {"values": [{"d": 10.205, "v": -1.103, "t": "(a)"}]},
       "mark": {"type": "text", "align": "left", "baseline": "middle", "font": "DejaVu Sans", "fontWeight": "bold", "fontSize": 22, "color": "#000"},
       "encoding": {
        "x": {"field": "d", "type": "quantitative", "scale": {"domain": [10.16, 32.84], "nice": false, "zero": false}},
        "y": {"field": "v", "type": "quantitative", "scale": {"domain": [-4.632, -0.874], "nice": false, "zero": false}, "axis": null},
        "text": {"field": "t"}
       }}
     ]
    }
   ],
   "resolve": {"scale": {"y": "independent"}}
  },
  {
   "width": 501, "height": 248,
   "layer": [
    {
     "data": {"name": "b"},
     "layer": [
      {"mark": {"type": "area", "color": "#9fd6e2", "opacity": 0.45},
       "encoding": {
        "x": {"field": "d", "type": "quantitative", "scale": {"domain": [10.16, 32.84], "nice": false, "zero": false},
              "axis": {"values": [15, 20, 25, 30], "labelExpr": "'May ' + datum.value", "tickSize": 11, "labelPadding": 13, "labelFontSize": 17, "domain": false, "title": null, "labelAngle": 0}},
        "y": {"field": "il", "type": "quantitative", "scale": {"domain": [-8.139, -3.826], "nice": false, "zero": false},
              "axis": {"orient": "left", "values": [-8, -7, -6, -5, -4], "labelExpr": "format(datum.value, 'd')", "tickSize": 7, "labelAngle": 270, "labelAlign": "center", "labelBaseline": "bottom", "labelPadding": 15, "domain": false, "title": "log₁₀ (RSFₐ [-])", "titleFontSize": 18.5, "titleAngle": 270, "titleX": -53, "titleY": 201, "titleAlign": "left", "titleBaseline": "middle"}},
        "y2": {"field": "ih"}
       }},
      {"mark": {"type": "area", "color": "#e07a7a", "opacity": 0.35},
       "encoding": {
        "x": {"field": "d", "type": "quantitative", "scale": {"domain": [10.16, 32.84], "nice": false, "zero": false}},
        "y": {"field": "ol", "type": "quantitative", "scale": {"domain": [-8.139, -3.826], "nice": false, "zero": false}},
        "y2": {"field": "oh"}
       }}
     ]
    },
    {
     "data": {"name": "q"},
     "mark": {"type": "line", "color": "#bdbdbd", "strokeWidth": 3, "strokeJoin": "round"},
     "encoding": {
      "x": {"field": "d", "type": "quantitative", "scale": {"domain": [10.16, 32.84], "nice": false, "zero": false}},
      "y": {"field": "q", "type": "quantitative", "scale": {"domain": [-15.4, 500], "nice": false, "zero": false},
            "axis": {"orient": "right", "values": [0, 100, 200, 300, 400, 500], "tickSize": 11, "labelAngle": 270, "labelAlign": "center", "labelBaseline": "top", "labelPadding": 15, "labelColor": "#808080", "domain": false, "tickColor": "#555", "title": "River Discharge [m³/s]", "titleFontSize": 15, "titleColor": "#808080", "titleAngle": 270, "titleX": 53, "titleY": 207, "titleAlign": "left", "titleBaseline": "middle"}}
     }
    },
    {
     "layer": [
      {"data": {"name": "b"}, "mark": {"type": "line", "color": "#3e7cb8", "strokeWidth": 2.2, "strokeJoin": "round"},
       "encoding": {
        "x": {"field": "d", "type": "quantitative", "scale": {"domain": [10.16, 32.84], "nice": false, "zero": false}},
        "y": {"field": "im", "type": "quantitative", "scale": {"domain": [-8.139, -3.826], "nice": false, "zero": false}, "axis": null}
       }},
      {"data": {"name": "b"}, "mark": {"type": "line", "color": "#c9177e", "strokeWidth": 2.2, "strokeJoin": "round"},
       "encoding": {
        "x": {"field": "d", "type": "quantitative", "scale": {"domain": [10.16, 32.84], "nice": false, "zero": false}},
        "y": {"field": "om", "type": "quantitative", "scale": {"domain": [-8.139, -3.826], "nice": false, "zero": false}, "axis": null}
       }},
      {"data": {"values": [{"d": 10.205, "v": -4.136, "t": "(b)"}]},
       "mark": {"type": "text", "align": "left", "baseline": "middle", "font": "DejaVu Sans", "fontWeight": "bold", "fontSize": 22, "color": "#000"},
       "encoding": {
        "x": {"field": "d", "type": "quantitative", "scale": {"domain": [10.16, 32.84], "nice": false, "zero": false}},
        "y": {"field": "v", "type": "quantitative", "scale": {"domain": [-8.139, -3.826], "nice": false, "zero": false}, "axis": null},
        "text": {"field": "t"}
       }}
     ]
    }
   ],
   "resolve": {"scale": {"y": "independent"}}
  }
 ]
}
